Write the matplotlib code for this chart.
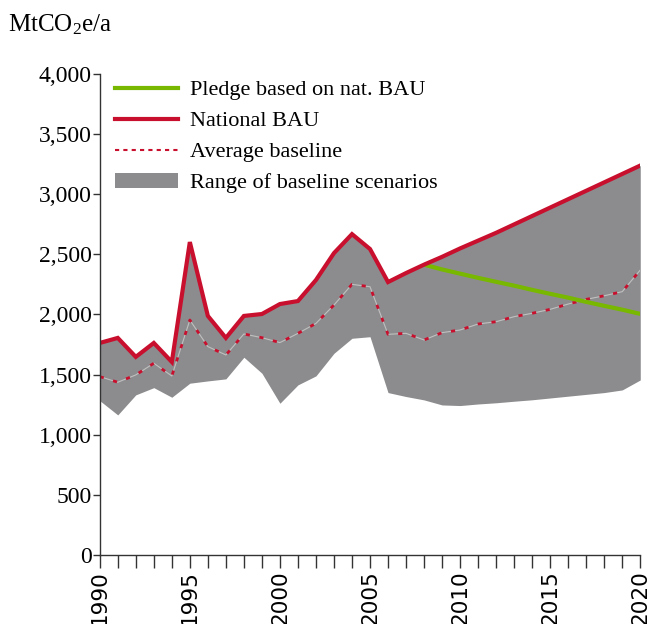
import matplotlib
matplotlib.use("Agg")
import matplotlib.pyplot as plt
from matplotlib.lines import Line2D
from matplotlib.patches import Patch

years = list(range(1990, 2021))

national_bau = [1763, 1805, 1647, 1763, 1605, 2603, 1988, 1805, 1988, 2004,
                2087, 2112, 2287, 2511, 2669, 2545, 2270, 2345, 2415, 2480,
                2550, 2615, 2680, 2750, 2820, 2890, 2960, 3030, 3100, 3170,
                3240]

avg_baseline = [1483, 1436, 1497, 1594, 1488, 1954, 1733, 1663, 1838, 1807,
                1766, 1843, 1926, 2079, 2251, 2231, 1835, 1843, 1788, 1849,
                1871, 1921, 1940, 1982, 2010, 2043, 2087, 2126, 2156, 2190,
                2370]

range_low = [1283, 1164, 1331, 1391, 1311, 1428, 1447, 1464, 1644, 1511,
             1261, 1414, 1489, 1677, 1802, 1815, 1350, 1317, 1289, 1247,
             1242, 1255, 1265, 1278, 1290, 1305, 1320, 1335, 1350, 1372,
             1455]

pledge_years = list(range(2008, 2021))
pledge = [2415, 2375, 2340, 2305, 2272, 2240, 2205, 2172, 2140, 2105,
          2072, 2040, 2005]

RED = "#c8102e"
GREEN = "#78b800"
GRAY = "#8c8c8e"
SERIF = "Liberation Serif"

plt.rcParams["mathtext.default"] = "regular"

fig = plt.figure(figsize=(6.52, 6.24), dpi=100)
ax = fig.add_axes([0.153, 0.111, 0.829, 0.770])

ax.fill_between(years, range_low, national_bau, color=GRAY, lw=0)
ax.plot(years, avg_baseline, color="#c0c0c0", lw=0.8)
ax.plot(years, avg_baseline, color=RED, lw=2, dashes=(1.5, 3.5))
ax.plot(pledge_years, pledge, color=GREEN, lw=3, solid_capstyle="butt")
ax.plot(years, national_bau, color=RED, lw=3, solid_joinstyle="miter")

ax.set_xlim(1990, 2020)
ax.set_ylim(0, 4000)
ax.set_yticks(range(0, 4001, 500))
ax.set_yticklabels([f"{v:,}" for v in range(0, 4001, 500)],
                   fontfamily=SERIF, fontsize=17)
ax.set_xticks(range(1990, 2021, 5))
ax.set_xticklabels([str(y) for y in range(1990, 2021, 5)],
                   rotation=90, fontsize=15.5, fontfamily="DejaVu Sans")
ax.set_xticks(range(1990, 2021), minor=True)
ax.tick_params(axis="x", which="both", direction="out", length=9, width=1,
               color="#333333", pad=2)
ax.tick_params(axis="y", direction="out", length=5, width=1, color="#333333",
               pad=1)

for side in ("top", "right"):
    ax.spines[side].set_visible(False)
for side in ("left", "bottom"):
    ax.spines[side].set_color("#333333")
    ax.spines[side].set_linewidth(1)

handles = [
    Line2D([], [], color=GREEN, lw=3),
    Line2D([], [], color=RED, lw=3),
    Line2D([], [], color=RED, lw=1.5, dashes=(2, 2)),
    Patch(facecolor=GRAY, edgecolor="none"),
]
labels = ["Pledge based on nat. BAU", "National BAU", "Average baseline",
          "Range of baseline scenarios"]
ax.legend(handles, labels, loc="upper left", bbox_to_anchor=(-0.008, 1.03),
          frameon=False, prop={"family": SERIF, "size": 16},
          handlelength=2.8, handletextpad=0.55, labelspacing=0.47)

fig.text(0.012, 0.96, "MtCO$_2$e/a", fontfamily=SERIF, fontsize=18,
         va="center", ha="left")

fig.savefig("out.png", dpi=100)
